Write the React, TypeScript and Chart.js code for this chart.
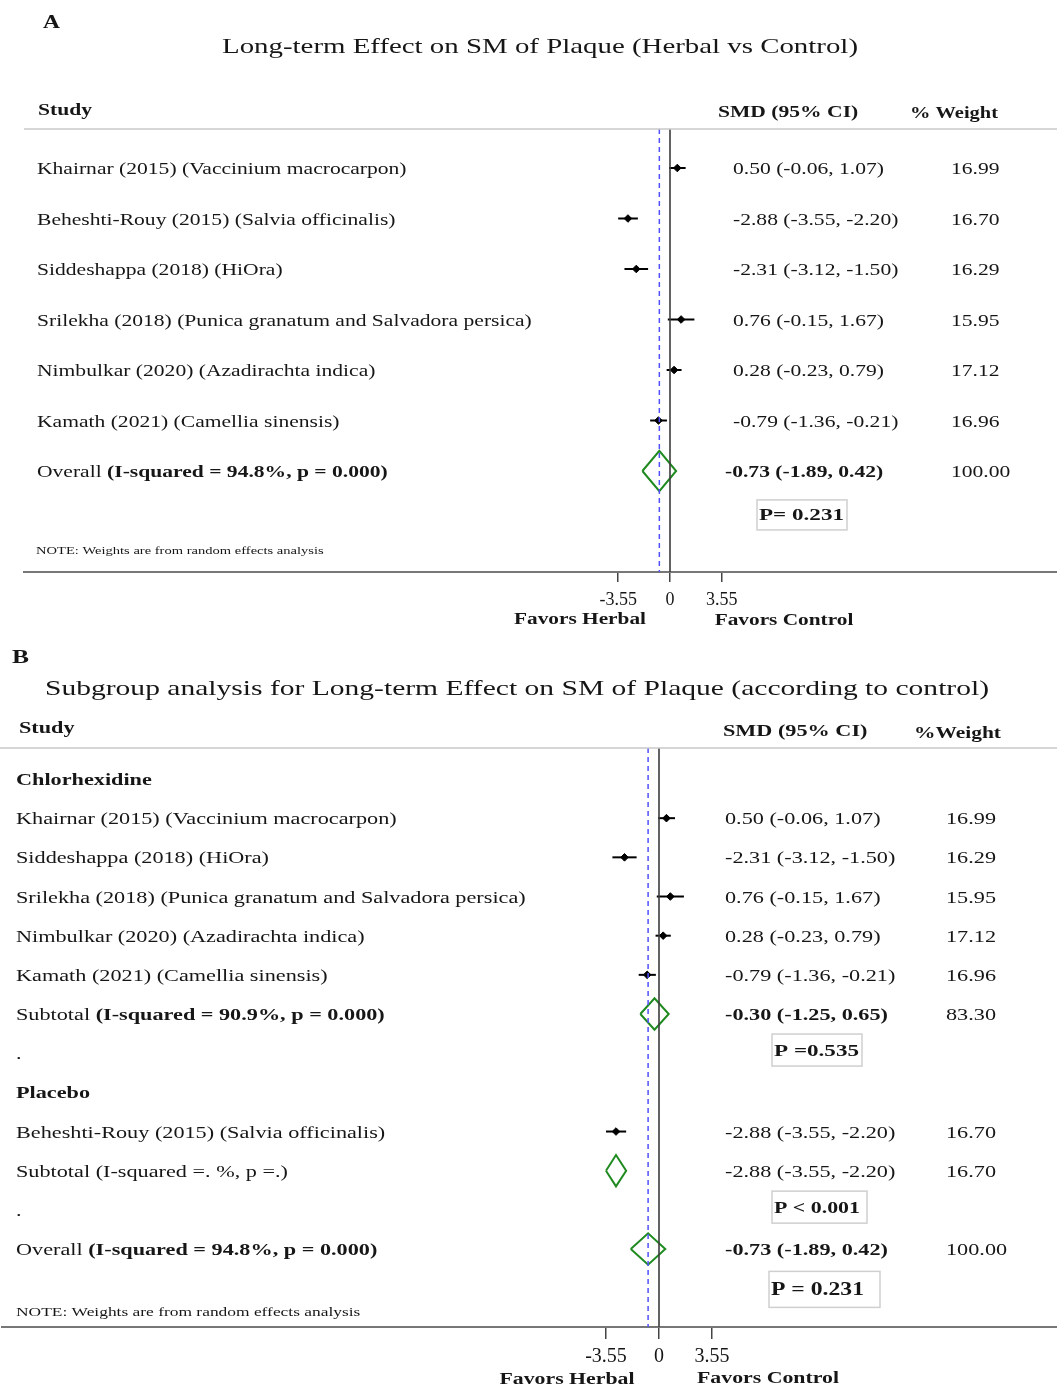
import React, { useEffect, useRef } from "react";
import { Chart, registerables } from "chart.js";
Chart.register(...registerables);

// ---------- Panel A data ----------
const titleA = "Long-term Effect on SM of Plaque (Herbal vs Control)";
const studiesA = [
  "Khairnar (2015) (Vaccinium macrocarpon)",
  "Beheshti-Rouy (2015) (Salvia officinalis)",
  "Siddeshappa (2018) (HiOra)",
  "Srilekha (2018) (Punica granatum and Salvadora persica)",
  "Nimbulkar (2020) (Azadirachta indica)",
  "Kamath (2021) (Camellia sinensis)",
];
const smdA = [0.5, -2.88, -2.31, 0.76, 0.28, -0.79];
const lowerA = [-0.06, -3.55, -3.12, -0.15, -0.23, -1.36];
const upperA = [1.07, -2.2, -1.5, 1.67, 0.79, -0.21];
const weightsA = [16.99, 16.7, 16.29, 15.95, 17.12, 16.96];
const overallA = [-0.73, -1.89, 0.42]; // estimate, lower, upper
const overallWeightA = 100.0;
const overallLabelA = ["Overall ", "(I-squared = 94.8%, p = 0.000)"];
const pValueA = "P= 0.231";

// ---------- Panel B data ----------
const titleB = "Subgroup analysis for Long-term Effect on SM of Plaque (according to control)";
const groupNamesB = ["Chlorhexidine", "Placebo"];
const chlorStudies = [
  "Khairnar (2015) (Vaccinium macrocarpon)",
  "Siddeshappa (2018) (HiOra)",
  "Srilekha (2018) (Punica granatum and Salvadora persica)",
  "Nimbulkar (2020) (Azadirachta indica)",
  "Kamath (2021) (Camellia sinensis)",
];
const chlorSmd = [0.5, -2.31, 0.76, 0.28, -0.79];
const chlorLower = [-0.06, -3.12, -0.15, -0.23, -1.36];
const chlorUpper = [1.07, -1.5, 1.67, 0.79, -0.21];
const chlorWeights = [16.99, 16.29, 15.95, 17.12, 16.96];
const chlorSubtotal = [-0.3, -1.25, 0.65];
const chlorSubtotalWeight = 83.3;
const chlorSubtotalLabel = ["Subtotal ", "(I-squared = 90.9%, p = 0.000)"];
const chlorP = "P =0.535";
const placeboStudies = ["Beheshti-Rouy (2015) (Salvia officinalis)"];
const placeboSmd = [-2.88];
const placeboLower = [-3.55];
const placeboUpper = [-2.2];
const placeboWeights = [16.7];
const placeboSubtotal = [-2.88, -3.55, -2.2];
const placeboSubtotalWeight = 16.7;
const placeboSubtotalLabel = "Subtotal (I-squared =. %, p =.)";
const placeboP = "P < 0.001";
const overallB = [-0.73, -1.89, 0.42];
const overallWeightB = 100.0;
const overallLabelB = ["Overall ", "(I-squared = 94.8%, p = 0.000)"];
const pValueB = "P = 0.231";

const xTicks = [-3.55, 0, 3.55];
const noteText = "NOTE: Weights are from random effects analysis";
const favorsLeft = "Favors Herbal";
const favorsRight = "Favors Control";

// ---------- rendering helpers ----------
const W = 1057;
const SX = 1.3;
const FONT = '"Liberation Serif", "Times New Roman", serif';
const INK = "#161616";

function drawText(
  ctx: CanvasRenderingContext2D,
  s: string,
  x: number,
  y: number,
  size: number,
  bold = false,
  align = "left",
  width?: number
) {
  ctx.save();
  ctx.font = `${bold ? "bold " : ""}${size}px ${FONT}`;
  ctx.textBaseline = "middle";
  ctx.fillStyle = INK;
  const raw = ctx.measureText(s).width;
  const sx = width ? width / raw : SX;
  const w = raw * sx;
  const x0 = align === "center" ? x - w / 2 : align === "right" ? x - w : x;
  ctx.translate(x0, y);
  ctx.scale(sx, 1);
  ctx.fillText(s, 0, 0);
  ctx.restore();
  return w;
}

type Item = {
  r: number;
  label: [string, boolean][];
  est?: number;
  lo?: number;
  hi?: number;
  weight?: number;
  pooled?: boolean;
  smdBold?: boolean;
};
type TextSpec = { s: string; x: number; y: number; size: number; bold?: boolean; align?: string; width?: number };
type BoxSpec = { r: number; s: string; x: number; w: number; h: number; size: number; tw: number };
type Panel = {
  canvasH: number;
  top: number;
  left: number;
  axisY: number;
  rowY0: number;
  rowStep: number;
  xZero: number;
  pxPerUnit: number;
  dh: number;
  tickLen: number;
  tickPad: number;
  tickFont: number;
  headerLineLeft: number;
  labelX: number;
  bodySize: number;
  textDy: number;
  smdX: number;
  smdBoldX: number;
  weightX: number;
  overallEst: number;
  items: Item[];
  texts: TextSpec[];
  boxes: BoxSpec[];
};

const f2 = (v: number) => v.toFixed(2);

function studyItems(names: string[], est: number[], lo: number[], hi: number[], wt: number[], r0: number): Item[] {
  return names.map((n, i) => ({ r: r0 + i, label: [[n, false]], est: est[i], lo: lo[i], hi: hi[i], weight: wt[i] }));
}

// ---------- panel definitions ----------
const panelA: Panel = {
  canvasH: 640,
  top: 129,
  left: 24,
  axisY: 572,
  rowY0: 168,
  rowStep: 50.5,
  xZero: 670,
  pxPerUnit: 14.6,
  dh: 0.4,
  tickLen: 10,
  tickPad: 7,
  tickFont: 18,
  headerLineLeft: 24,
  labelX: 37,
  bodySize: 16.6,
  textDy: 2,
  smdX: 733,
  smdBoldX: 725,
  weightX: 951,
  overallEst: overallA[0],
  items: [
    ...studyItems(studiesA, smdA, lowerA, upperA, weightsA, 0),
    {
      r: 6,
      label: [
        [overallLabelA[0], false],
        [overallLabelA[1], true],
      ],
      est: overallA[0],
      lo: overallA[1],
      hi: overallA[2],
      weight: overallWeightA,
      pooled: true,
      smdBold: true,
    },
  ],
  texts: [
    { s: "A", x: 43, y: 23, size: 18, bold: true },
    { s: titleA, x: 540, y: 47, size: 22, align: "center", width: 636 },
    { s: "Study", x: 38, y: 111, size: 16.6, bold: true },
    { s: "SMD (95% CI)", x: 718, y: 113, size: 16.6, bold: true },
    { s: "% Weight", x: 910, y: 114, size: 16.6, bold: true, width: 88 },
    { s: noteText, x: 36, y: 551, size: 11.2 },
    { s: favorsLeft, x: 580, y: 620, size: 16.4, bold: true, align: "center" },
    { s: favorsRight, x: 784, y: 621, size: 16.4, bold: true, align: "center" },
  ],
  boxes: [{ r: 6.87, s: pValueA, x: 757, w: 90, h: 30, size: 17.5, tw: 85 }],
};

const panelB: Panel = {
  canvasH: 748,
  top: 108,
  left: 2,
  axisY: 687,
  rowY0: 139,
  rowStep: 39.17,
  xZero: 659,
  pxPerUnit: 14.93,
  dh: 0.4,
  tickLen: 12,
  tickPad: 6,
  tickFont: 20,
  headerLineLeft: 0,
  labelX: 16,
  bodySize: 17.1,
  textDy: 1.5,
  smdX: 725,
  smdBoldX: 725,
  weightX: 946,
  overallEst: overallB[0],
  items: [
    { r: 0, label: [[groupNamesB[0], true]] },
    ...studyItems(chlorStudies, chlorSmd, chlorLower, chlorUpper, chlorWeights, 1),
    {
      r: 6,
      label: [
        [chlorSubtotalLabel[0], false],
        [chlorSubtotalLabel[1], true],
      ],
      est: chlorSubtotal[0],
      lo: chlorSubtotal[1],
      hi: chlorSubtotal[2],
      weight: chlorSubtotalWeight,
      pooled: true,
      smdBold: true,
    },
    { r: 7, label: [[".", false]] },
    { r: 8, label: [[groupNamesB[1], true]] },
    ...studyItems(placeboStudies, placeboSmd, placeboLower, placeboUpper, placeboWeights, 9),
    {
      r: 10,
      label: [[placeboSubtotalLabel, false]],
      est: placeboSubtotal[0],
      lo: placeboSubtotal[1],
      hi: placeboSubtotal[2],
      weight: placeboSubtotalWeight,
      pooled: true,
    },
    { r: 11, label: [[".", false]] },
    {
      r: 12,
      label: [
        [overallLabelB[0], false],
        [overallLabelB[1], true],
      ],
      est: overallB[0],
      lo: overallB[1],
      hi: overallB[2],
      weight: overallWeightB,
      pooled: true,
      smdBold: true,
    },
  ],
  texts: [
    { s: "B", x: 12, y: 18, size: 19.6, bold: true },
    { s: titleB, x: 517, y: 49, size: 22, align: "center", width: 944 },
    { s: "Study", x: 19, y: 89, size: 17.1, bold: true },
    { s: "SMD (95% CI)", x: 723, y: 92, size: 17.1, bold: true },
    { s: "%Weight", x: 914, y: 94, size: 17.1, bold: true, width: 87 },
    { s: noteText, x: 16, y: 672, size: 13.4 },
    { s: favorsLeft, x: 567, y: 740, size: 16.8, bold: true, align: "center" },
    { s: favorsRight, x: 768, y: 739, size: 16.8, bold: true, align: "center" },
  ],
  boxes: [
    { r: 6.92, s: chlorP, x: 772, w: 90, h: 32, size: 17.5, tw: 85 },
    { r: 10.93, s: placeboP, x: 772, w: 95, h: 32, size: 17.5, tw: 86 },
    { r: 13.03, s: pValueB, x: 769, w: 111, h: 36, size: 19, tw: 93 },
  ],
};

function makeConfig(p: Panel): any {
  const xMin = (p.left - p.xZero) / p.pxPerUnit;
  const xMax = (W - p.xZero) / p.pxPerUnit;
  const yMin = (p.top - p.rowY0) / p.rowStep;
  const yMax = (p.axisY - p.rowY0) / p.rowStep;

  const datasets: any[] = [];
  datasets.push({
    data: [
      { x: 0, y: yMin },
      { x: 0, y: yMax },
    ],
    showLine: true,
    borderColor: "#3c3c3c",
    borderWidth: 1.6,
    pointRadius: 0,
  });
  datasets.push({
    data: [
      { x: p.overallEst, y: yMin },
      { x: p.overallEst, y: yMax },
    ],
    showLine: true,
    borderColor: "#5050ff",
    borderWidth: 1.5,
    borderDash: [5, 4],
    pointRadius: 0,
  });
  const pts: any[] = [];
  for (const it of p.items) {
    if (it.est === undefined) continue;
    if (it.pooled) {
      datasets.push({
        data: [
          { x: it.lo, y: it.r },
          { x: it.est, y: it.r - p.dh },
          { x: it.hi, y: it.r },
          { x: it.est, y: it.r + p.dh },
          { x: it.lo, y: it.r },
        ],
        showLine: true,
        borderColor: "#1f8a1f",
        borderWidth: 2,
        borderJoinStyle: "miter",
        pointRadius: 0,
        fill: false,
        tension: 0,
      });
    } else {
      datasets.push({
        data: [
          { x: it.lo, y: it.r },
          { x: it.hi, y: it.r },
        ],
        showLine: true,
        borderColor: "#000",
        borderWidth: 2,
        pointRadius: 0,
      });
      pts.push({ x: it.est, y: it.r });
    }
  }
  datasets.push({
    data: pts,
    pointStyle: "rectRot",
    pointRadius: 3.8,
    backgroundColor: "#000",
    borderColor: "#000",
    borderWidth: 1,
  });

  const textPlugin = {
    id: "forestText",
    afterDraw(chart: any) {
      const ctx: CanvasRenderingContext2D = chart.ctx;
      const ys = chart.scales.y;
      const area = chart.chartArea;
      ctx.save();
      ctx.strokeStyle = "#c9c9c9";
      ctx.lineWidth = 1.3;
      ctx.beginPath();
      ctx.moveTo(p.headerLineLeft, area.top);
      ctx.lineTo(W, area.top);
      ctx.stroke();
      ctx.restore();

      for (const t of p.texts) drawText(ctx, t.s, t.x, t.y, t.size, !!t.bold, t.align || "left", t.width);

      for (const it of p.items) {
        const y = ys.getPixelForValue(it.r) + p.textDy;
        let x = p.labelX;
        for (const [s, b] of it.label) x += drawText(ctx, s, x, y, p.bodySize, b);
        if (it.est !== undefined) {
          const s = `${f2(it.est)} (${f2(it.lo!)}, ${f2(it.hi!)})`;
          drawText(ctx, s, it.smdBold ? p.smdBoldX : p.smdX, y, p.bodySize, !!it.smdBold);
          drawText(ctx, f2(it.weight!), p.weightX, y, p.bodySize, false);
        }
      }

      for (const b of p.boxes) {
        const y = ys.getPixelForValue(b.r);
        ctx.save();
        ctx.strokeStyle = "#cfcfcf";
        ctx.lineWidth = 1.5;
        ctx.strokeRect(b.x, y - b.h / 2, b.w, b.h);
        ctx.restore();
        drawText(ctx, b.s, b.x + 2, y + 1, b.size, true, "left", b.tw);
      }
    },
  };

  return {
    type: "scatter",
    data: { datasets },
    plugins: [textPlugin],
    options: {
      animation: false,
      responsive: false,
      devicePixelRatio: 1,
      events: [],
      layout: { autoPadding: false, padding: { left: p.left, right: 0, top: p.top, bottom: 0 } },
      plugins: { legend: { display: false }, tooltip: { enabled: false } },
      scales: {
        x: {
          type: "linear",
          min: xMin,
          max: xMax,
          afterBuildTicks: (s: any) => {
            s.ticks = xTicks.map((v) => ({ value: v }));
          },
          afterFit: (s: any) => {
            s.height = p.canvasH - p.axisY;
          },
          grid: { drawOnChartArea: false, drawTicks: true, tickLength: p.tickLen, color: "#444", lineWidth: 1.5 },
          border: { display: true, color: "#777", width: 2 },
          ticks: {
            font: { family: FONT, size: p.tickFont },
            color: INK,
            padding: p.tickPad,
            maxRotation: 0,
            autoSkip: false,
            callback: (v: any) => String(v),
          },
        },
        y: { type: "linear", display: false, reverse: true, min: yMin, max: yMax },
      },
    },
  };
}

function ForestCanvas({ panel, top }: { panel: Panel; top: number }) {
  const ref = useRef<HTMLCanvasElement>(null);
  useEffect(() => {
    const chart = new Chart(ref.current as HTMLCanvasElement, makeConfig(panel));
    return () => chart.destroy();
  }, [panel]);
  return (
    <canvas
      ref={ref}
      width={W}
      height={panel.canvasH}
      style={{ position: "absolute", left: 0, top, width: W, height: panel.canvasH, display: "block" }}
    />
  );
}

export default function App() {
  return (
    <div style={{ position: "absolute", left: 0, top: 0, width: W, height: 1388, background: "#fff" }}>
      <ForestCanvas panel={panelA} top={0} />
      <ForestCanvas panel={panelB} top={640} />
    </div>
  );
}
